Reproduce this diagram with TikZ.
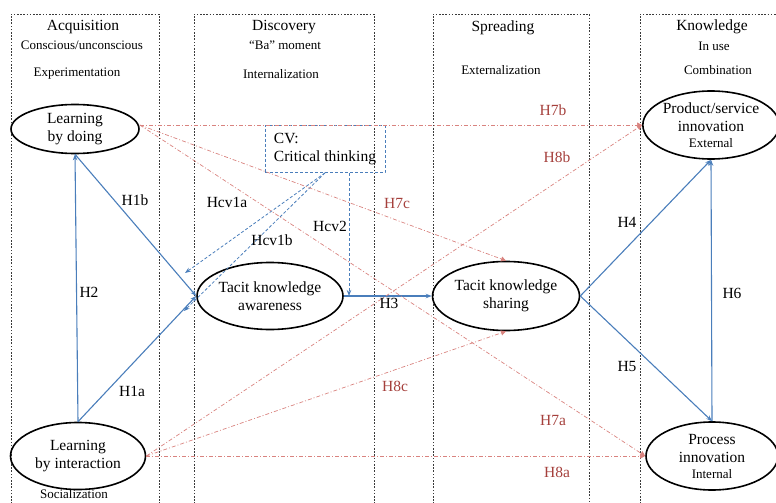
\documentclass[tikz,border=0pt]{standalone}
\usepackage{fontspec}
\setmainfont{Liberation Serif}
\usetikzlibrary{shapes.geometric,arrows.meta}
\definecolor{linkblue}{HTML}{4A7EBB}
\definecolor{hypred}{HTML}{D9837F}
\definecolor{labred}{HTML}{A5403C}
\definecolor{boxgray}{HTML}{3A3A3A}
\begin{document}
\begin{tikzpicture}[x=1pt,y=-1pt,
  big/.style={font=\fontsize{15.5}{18}\selectfont},
  sub/.style={font=\fontsize{13}{15}\selectfont},
  column/.style={draw=boxgray, line width=0.8pt, dash pattern=on 1.6pt off 1.6pt},
  construct/.style={ellipse, draw=black, line width=1.6pt, inner sep=0pt, align=center, big},
  mainpath/.style={draw=linkblue, line width=1.1pt, -{Stealth[length=6pt,width=4.5pt]}},
  modpath/.style={draw=linkblue, line width=0.8pt, dash pattern=on 3pt off 2pt, -{Stealth[length=6pt,width=4.5pt]}},
  crosspath/.style={draw=hypred, line width=0.7pt, dash pattern=on 4pt off 2pt on 1pt off 2pt, -{Triangle[length=5pt,width=5pt]}},
  hlab/.style={big, inner sep=0pt},
  rlab/.style={big, text=labred, inner sep=0pt},
  head/.style={big, inner sep=0pt},
  subhead/.style={sub, inner sep=0pt},
]
\useasboundingbox (0,0) rectangle (776,503);
\clip (0,0) rectangle (776,503);

% phase columns
\draw[column] (11,520) -- (11,14) -- (159,14) -- (159,520);
\draw[column] (194,520) -- (194,14) -- (374,14) -- (374,520);
\draw[column] (433,520) -- (433,14) -- (589,14) -- (589,520);
\draw[column] (640,520) -- (640,14) -- (790,14);

% column headings
\node[head] (hA) at (83,27) {Acquisition};
\node[subhead] (hA1) at (82,45) {Conscious/unconscious};
\node[subhead] (hA2) at (77,74) {Experimentation};
\node[head] (hB) at (284,27) {Discovery};
\node[subhead] (hB1) at (285,45) {“Ba” moment};
\node[subhead] (hB2) at (281,74) {Internalization};
\node[head] (hC) at (503,28) {Spreading};
\node[subhead] (hC2) at (501,70) {Externalization};
\node[head] (hD) at (712,27) {Knowledge};
\node[subhead] (hD1) at (714,46) {In use};
\node[subhead] (hD2) at (718,70) {Combination};
\node[subhead] (hA3) at (74,494) {Socialization};

% constructs
\node[construct, minimum width=128pt, minimum height=49pt] (lbd) at (75,129) {Learning\\by doing};
\node[construct, minimum width=135pt, minimum height=67pt] (lbi) at (78,456) {Learning\\by interaction};
\node[construct, minimum width=146pt, minimum height=67pt] (tka) at (270,296) {Tacit knowledge\\awareness};
\node[construct, minimum width=147pt, minimum height=69pt] (tks) at (506,296) {Tacit knowledge\\sharing};
\node[construct, minimum width=132pt, minimum height=68pt] (psi) at (711,125) {Product/service\\innovation\\[-2pt]{\fontsize{13}{15}\selectfont External}};
\node[construct, minimum width=132pt, minimum height=68pt] (pi) at (712,456) {Process\\innovation\\[-2pt]{\fontsize{13}{15}\selectfont Internal}};

% moderator
\node[draw=linkblue, line width=0.8pt, dash pattern=on 3pt off 2pt, minimum width=120pt, minimum height=47pt, align=left, big, inner sep=0pt] (cv) at (325,149) {CV:\\Critical thinking};

% anchor points for moderating links
\coordinate (lbdout) at (lbd.east |- psi.west);
\coordinate (h1bmod) at (185,273);
\coordinate (h1amod) at (184,311);
\coordinate (h3mod) at (tka.east -| 349,0);
\coordinate (cvout) at (cv.south -| h3mod);

% main paths
\draw[mainpath] (lbi.north) -- (lbd.south);
\draw[mainpath] (lbd.south) -- (tka.west);
\draw[mainpath] (lbi.north) -- (tka.west);
\draw[mainpath] (tka.east) -- (tks.west);
\draw[mainpath] (tks.east) -- (psi.south);
\draw[mainpath] (tks.east) -- (pi.north);
\draw[mainpath] (pi.north) -- (psi.south);

% moderating effects
\draw[modpath] (cv.south) -- (h1bmod);
\draw[modpath] (cv.south) -- (h1amod);
\draw[modpath] (cvout) -- (h3mod);

% direct cross-phase effects
\draw[crosspath] (lbdout) -- (psi.west);
\draw[crosspath] (lbdout) -- (tks.north);
\draw[crosspath] (lbdout) -- (pi.west);
\draw[crosspath] (lbi.east) -- (pi.west);
\draw[crosspath] (lbi.east) -- (psi.west);
\draw[crosspath] (lbi.east) -- (tks.south);

% hypothesis labels
\node[hlab] (lH1b) at (135,200) {H1b};
\node[hlab] (lH2) at (89,292) {H2};
\node[hlab] (lH1a) at (132,391) {H1a};
\node[hlab] (lHcv1a) at (227,202) {Hcv1a};
\node[hlab] (lHcv1b) at (272,240) {Hcv1b};
\node[hlab] (lHcv2) at (330,226) {Hcv2};
\node[hlab] (lH3) at (389,303) {H3};
\node[hlab] (lH4) at (627,222) {H4};
\node[hlab] (lH5) at (627,366) {H5};
\node[hlab] (lH6) at (732,293) {H6};
\node[rlab] (lH7b) at (553,110) {H7b};
\node[rlab] (lH8b) at (557,157) {H8b};
\node[rlab] (lH7c) at (397,203) {H7c};
\node[rlab] (lH8c) at (395,386) {H8c};
\node[rlab] (lH7a) at (553,420) {H7a};
\node[rlab] (lH8a) at (557,472) {H8a};
\end{tikzpicture}
\end{document}
